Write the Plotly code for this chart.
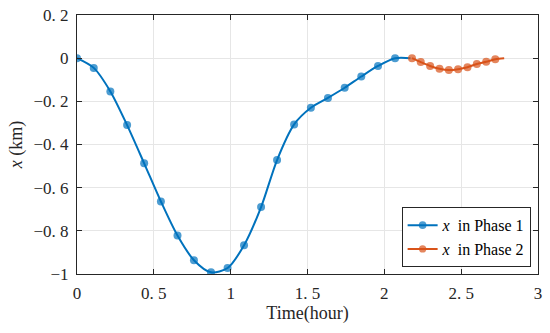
import plotly.graph_objects as go

# Phase 1 (blue): marker points plus the curve's end point (no marker)
t1 = [0.0, 0.109, 0.217, 0.326, 0.437, 0.546, 0.654, 0.761, 0.872, 0.980, 1.087, 1.198,
      1.302, 1.413, 1.522, 1.633, 1.742, 1.850, 1.959, 2.070, 2.170]
x1 = [0.0, -0.045, -0.154, -0.310, -0.487, -0.664, -0.822, -0.936, -0.992, -0.972, -0.867, -0.690,
      -0.472, -0.307, -0.230, -0.184, -0.137, -0.085, -0.036, 0.0, 0.0]
m1 = [8] * 20 + [0]

# Phase 2 (orange)
t2 = [2.180, 2.237, 2.298, 2.359, 2.420, 2.480, 2.541, 2.602, 2.663, 2.722, 2.780]
x2 = [0.0, -0.018, -0.036, -0.049, -0.055, -0.051, -0.042, -0.027, -0.017, -0.005, 0.0]
m2 = [8] * 10 + [0]

xticks = [0, 0.5, 1, 1.5, 2, 2.5, 3]
xticktext = ["0", "0. 5", "1", "1. 5", "2", "2. 5", "3"]
yticks = [-1, -0.8, -0.6, -0.4, -0.2, 0, 0.2]
yticktext = ["\u22121", "\u22120. 8", "\u22120. 6", "\u22120. 4", "\u22120. 2", "0", "0. 2"]

serif = "Liberation Serif, Times New Roman, serif"

fig = go.Figure()
fig.add_trace(go.Scatter(
    x=t1, y=x1, mode="lines+markers", name="<i>x</i>  in Phase 1",
    line=dict(color="#0072BD", width=2, shape="spline", smoothing=0.8),
    marker=dict(color="#0072BD", size=m1, line=dict(width=0)),
))
fig.add_trace(go.Scatter(
    x=t2, y=x2, mode="lines+markers", name="<i>x</i>  in Phase 2",
    line=dict(color="#D95319", width=2, shape="spline", smoothing=0.8),
    marker=dict(color="#D95319", size=m2, line=dict(width=0)),
))

axis_common = dict(
    showline=True, linecolor="#262626", linewidth=1, mirror="ticks",
    ticks="inside", ticklen=5, tickcolor="#262626",
    showgrid=True, gridcolor="#E6E6E6", gridwidth=1, zeroline=False,
    tickfont=dict(family=serif, size=17, color="#262626"),
    ticklabelstandoff=4, automargin=False, ticklabeloverflow="allow",
)

fig.update_layout(
    width=550, height=333,
    margin=dict(l=77, r=12, t=15, b=59),
    paper_bgcolor="white", plot_bgcolor="white",
    xaxis=dict(range=[0, 3], tickvals=xticks, ticktext=xticktext,
               title=dict(text="Time(hour)", font=dict(family=serif, size=18, color="#262626"), standoff=2),
               **axis_common),
    yaxis=dict(range=[-1, 0.2], tickvals=yticks, ticktext=yticktext,
               title=dict(text="<i>x</i> (km)", font=dict(family=serif, size=18, color="#262626"), standoff=6),
               **axis_common),
    legend=dict(x=0.984, y=0.026, xanchor="right", yanchor="bottom",
                bgcolor="white", bordercolor="#262626", borderwidth=1,
                font=dict(family=serif, size=16, color="#000000"),
                tracegroupgap=0, itemwidth=30),
    showlegend=True,
)

# remove the browser's default 8px body margin so the figure fills the window
fig.write_html("out.html", config={"displayModeBar": False},
               post_script="document.body.style.margin='0';")
